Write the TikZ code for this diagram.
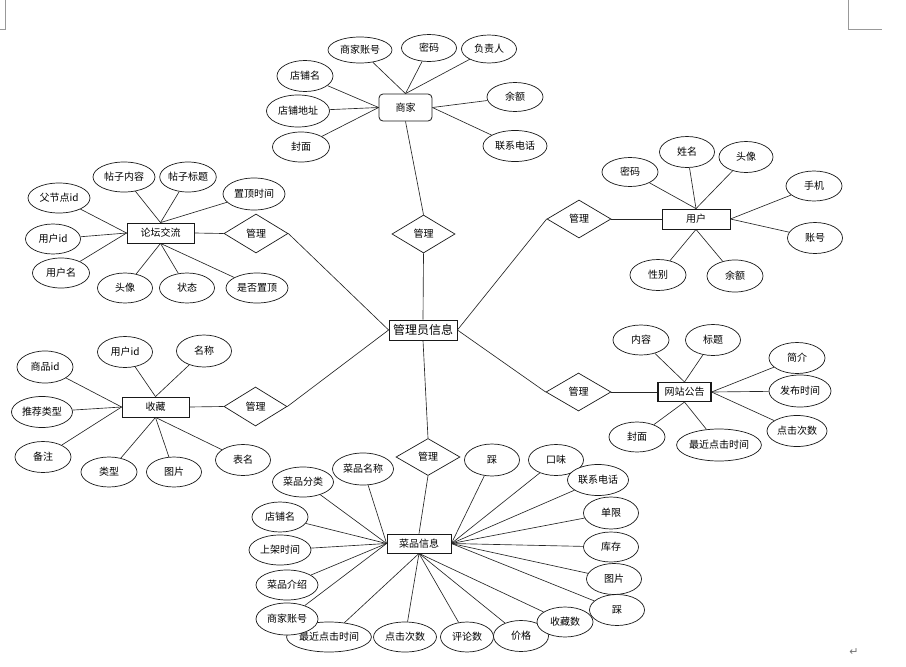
\documentclass[tikz,border=0pt]{standalone}
\usepackage{fontspec}
\setmainfont{Noto Sans CJK SC}
\newfontfamily\symfont{DejaVu Sans}
\usetikzlibrary{shapes.geometric}
\pgfdeclarelayer{background}
\pgfsetlayers{background,main}
\tikzset{
  sz/.style 2 args={minimum width=#1, minimum height=#2},
  attr/.style={ellipse, draw=black!90, line width=0.7pt, fill=white, inner sep=0pt, font=\fontsize{10}{12}\selectfont},
  ent/.style={rectangle, draw=black!90, line width=0.8pt, fill=white, inner sep=0pt, font=\fontsize{10}{12}\selectfont},
  rel/.style={diamond, draw=black!90, line width=0.7pt, fill=white, inner sep=0pt, font=\fontsize{10}{12}\selectfont},
  conn/.style={draw=black!85, line width=0.65pt},
  pagemark/.style={draw=black!40, line width=0.8pt},
}
\begin{document}
\begin{tikzpicture}[x=1pt,y=-1pt]
\useasboundingbox (0,0) rectangle (906,667);
% page marks
\draw[pagemark] (5.3,0) -- (5.3,29.3) -- (0,29.3);
\draw[pagemark] (848.7,0) -- (848.7,29.3) -- (881.7,29.3);
\node[text=black!55, font=\symfont\fontsize{11}{12}\selectfont] (para) at (854,652) {↵};

% centre
\node[ent, sz={68pt}{20pt}, font=\fontsize{12}{14}\selectfont] (admin) at (423,330) {管理员信息};

% merchant
\node[ent, rounded corners=4pt, sz={53pt}{27pt}] (m) at (405.5,107.5) {商家};
\node[attr, sz={64pt}{26pt}] (m1) at (360,50) {商家账号};
\node[attr, sz={55pt}{27pt}] (m2) at (429,48) {密码};
\node[attr, sz={55pt}{28pt}] (m3) at (489,49) {负责人};
\node[attr, sz={56pt}{31pt}] (m4) at (305,76) {店铺名};
\node[attr, sz={63pt}{32pt}] (m5) at (298,111) {店铺地址};
\node[attr, sz={57pt}{30pt}] (m6) at (301,147) {封面};
\node[attr, sz={56pt}{29pt}] (m7) at (515,97) {余额};
\node[attr, sz={64pt}{31pt}] (m8) at (515,146) {联系电话};
\node[rel, sz={63pt}{38pt}] (rm) at (423.5,234) {管理};

% forum
\node[ent, sz={67pt}{20pt}] (f) at (160.5,233) {论坛交流};
\node[rel, sz={64pt}{39pt}] (rf) at (256,233.5) {管理};
\node[attr, sz={62pt}{30pt}] (f1) at (124,177) {帖子内容};
\node[attr, sz={55pt}{30pt}] (f2) at (188,177) {帖子标题};
\node[attr, sz={62pt}{32pt}] (f3) at (254,194) {置顶时间};
\node[attr, sz={62pt}{30pt}] (f4) at (59,198) {父节点id};
\node[attr, sz={55pt}{30pt}] (f5) at (53,239) {用户id};
\node[attr, sz={57pt}{30pt}] (f6) at (61,273) {用户名};
\node[attr, sz={55pt}{30pt}] (f7) at (125,288) {头像};
\node[attr, sz={55pt}{30pt}] (f8) at (187,288) {状态};
\node[attr, sz={62pt}{30pt}] (f9) at (257,288) {是否置顶};

% user
\node[ent, sz={68pt}{20pt}] (u) at (696,219) {用户};
\node[rel, sz={64pt}{38pt}] (ru) at (579,219) {管理};
\node[attr, sz={56pt}{29pt}] (u1) at (630,172) {密码};
\node[attr, sz={55pt}{31pt}] (u2) at (687,152) {姓名};
\node[attr, sz={54pt}{31pt}] (u3) at (746,157) {头像};
\node[attr, sz={56pt}{30pt}] (u4) at (814,186) {手机};
\node[attr, sz={55pt}{31pt}] (u5) at (815,238) {账号};
\node[attr, sz={56pt}{31pt}] (u6) at (658,275) {性别};
\node[attr, sz={56pt}{32pt}] (u7) at (735,276) {余额};

% collection
\node[ent, sz={67pt}{20pt}] (c) at (155.5,407) {收藏};
\node[rel, sz={63pt}{39pt}] (rc) at (255.5,406.5) {管理};
\node[attr, sz={55pt}{31pt}] (c1) at (125,352) {用户id};
\node[attr, sz={55pt}{32pt}] (c2) at (204,351) {名称};
\node[attr, sz={56pt}{32pt}] (c3) at (45,367) {商品id};
\node[attr, sz={61pt}{31pt}] (c4) at (42,412) {推荐类型};
\node[attr, sz={56pt}{31pt}] (c5) at (43,457) {备注};
\node[attr, sz={56pt}{30pt}] (c6) at (109,472) {类型};
\node[attr, sz={55pt}{30pt}] (c7) at (174,472) {图片};
\node[attr, sz={55pt}{31pt}] (c8) at (243,460) {表名};

% announcement
\node[ent, sz={53pt}{19pt}, line width=1.1pt] (w) at (684.5,392) {网站公告};
\node[rel, sz={65pt}{38pt}] (rw) at (578.5,392) {管理};
\node[attr, sz={56pt}{30pt}] (w1) at (641,340) {内容};
\node[attr, sz={55pt}{31pt}] (w2) at (713,340) {标题};
\node[attr, sz={56pt}{31pt}] (w3) at (797,358) {简介};
\node[attr, sz={62pt}{32pt}] (w4) at (800,391) {发布时间};
\node[attr, sz={60pt}{31pt}] (w5) at (797,431) {点击次数};
\node[attr, sz={56pt}{30pt}] (w6) at (637,437) {封面};
\node[attr, sz={82pt}{32pt}] (w7) at (719,445) {最近点击时间};

% dishes
\node[ent, sz={64pt}{19pt}] (d) at (419,543.5) {菜品信息};
\node[rel, sz={64pt}{37pt}] (rd) at (428,457) {管理};
\node[attr, sz={61pt}{32pt}] (d1) at (363,469) {菜品名称};
\node[attr, sz={61pt}{30pt}] (d2) at (303,482) {菜品分类};
\node[attr, sz={56pt}{30pt}] (d3) at (280,517) {店铺名};
\node[attr, sz={62pt}{30pt}] (d4) at (280,550) {上架时间};
\node[attr, sz={62pt}{30pt}] (d5) at (287,585) {菜品介绍};
\node[attr, sz={83pt}{30pt}] (d7) at (329,637) {最近点击时间};
\node[attr, sz={62pt}{32pt}] (d6) at (287,619) {商家账号};
\node[attr, sz={63pt}{30pt}] (d8) at (405,637) {点击次数};
\node[attr, sz={53pt}{30pt}] (d9) at (467,637) {评论数};
\node[attr, sz={55pt}{31pt}] (d12) at (617,610) {踩};
\node[attr, sz={55pt}{31pt}] (d10) at (521,636) {价格};
\node[attr, sz={56pt}{30pt}] (d11) at (565,622) {收藏数};
\node[attr, sz={55pt}{31pt}] (d13) at (614,579) {图片};
\node[attr, sz={55pt}{30pt}] (d14) at (611,547) {库存};
\node[attr, sz={55pt}{32pt}] (d15) at (611,513) {单限};
\node[attr, sz={55pt}{31pt}] (d17) at (556,460) {口味};
\node[attr, sz={61pt}{31pt}] (d16) at (598,480) {联系电话};
\node[attr, sz={55pt}{32pt}] (d18) at (492,460) {踩};

\begin{pgfonlayer}{background}
% merchant
\foreach \a in {m1,m2,m3} \draw[conn] (\a) -- (m.north);
\foreach \a in {m4,m5,m6} \draw[conn] (\a) -- (m.west);
\foreach \a in {m7,m8} \draw[conn] (\a) -- (m.east);
\draw[conn] (m.south) -- (rm.north);
\draw[conn] (rm.south) -- (admin.north);
% forum
\foreach \a in {f1,f2,f3} \draw[conn] (\a) -- (f.north);
\foreach \a in {f4,f5,f6} \draw[conn] (\a) -- (f.west);
\foreach \a in {f7,f8,f9} \draw[conn] (\a) -- (f.south);
\draw[conn] (f.east) -- (rf.west);
\draw[conn] (rf.east) -- (admin.west);
% user
\foreach \a in {u1,u2,u3} \draw[conn] (\a) -- (u.north);
\foreach \a in {u4,u5} \draw[conn] (\a) -- (u.east);
\foreach \a in {u6,u7} \draw[conn] (\a) -- (u.south);
\draw[conn] (u.west) -- (ru.east);
\draw[conn] (ru.west) -- (admin.east);
% collection
\foreach \a in {c1,c2} \draw[conn] (\a) -- (c.north);
\foreach \a in {c3,c4,c5} \draw[conn] (\a) -- (c.west);
\foreach \a in {c6,c7,c8} \draw[conn] (\a) -- (c.south);
\draw[conn] (c.east) -- (rc.west);
\draw[conn] (rc.east) -- (admin.west);
% announcement
\foreach \a in {w1,w2} \draw[conn] (\a) -- (w.north);
\foreach \a in {w3,w4,w5} \draw[conn] (\a) -- (w.east);
\foreach \a in {w6,w7} \draw[conn] (\a) -- (w.south);
\draw[conn] (w.west) -- (rw.east);
\draw[conn] (rw.west) -- (admin.east);
% dishes
\foreach \a in {d1,d2,d3,d4,d5,d6} \draw[conn] (\a) -- (d.west);
\foreach \a in {d7,d8,d9,d10,d11} \draw[conn] (\a) -- (d.south);
\foreach \a in {d12,d13,d14,d15,d16,d17,d18} \draw[conn] (\a) -- (d.east);
\draw[conn] (d.north) -- (rd.south);
\draw[conn] (rd.north) -- (admin.south);
\end{pgfonlayer}
\end{tikzpicture}
\end{document}
